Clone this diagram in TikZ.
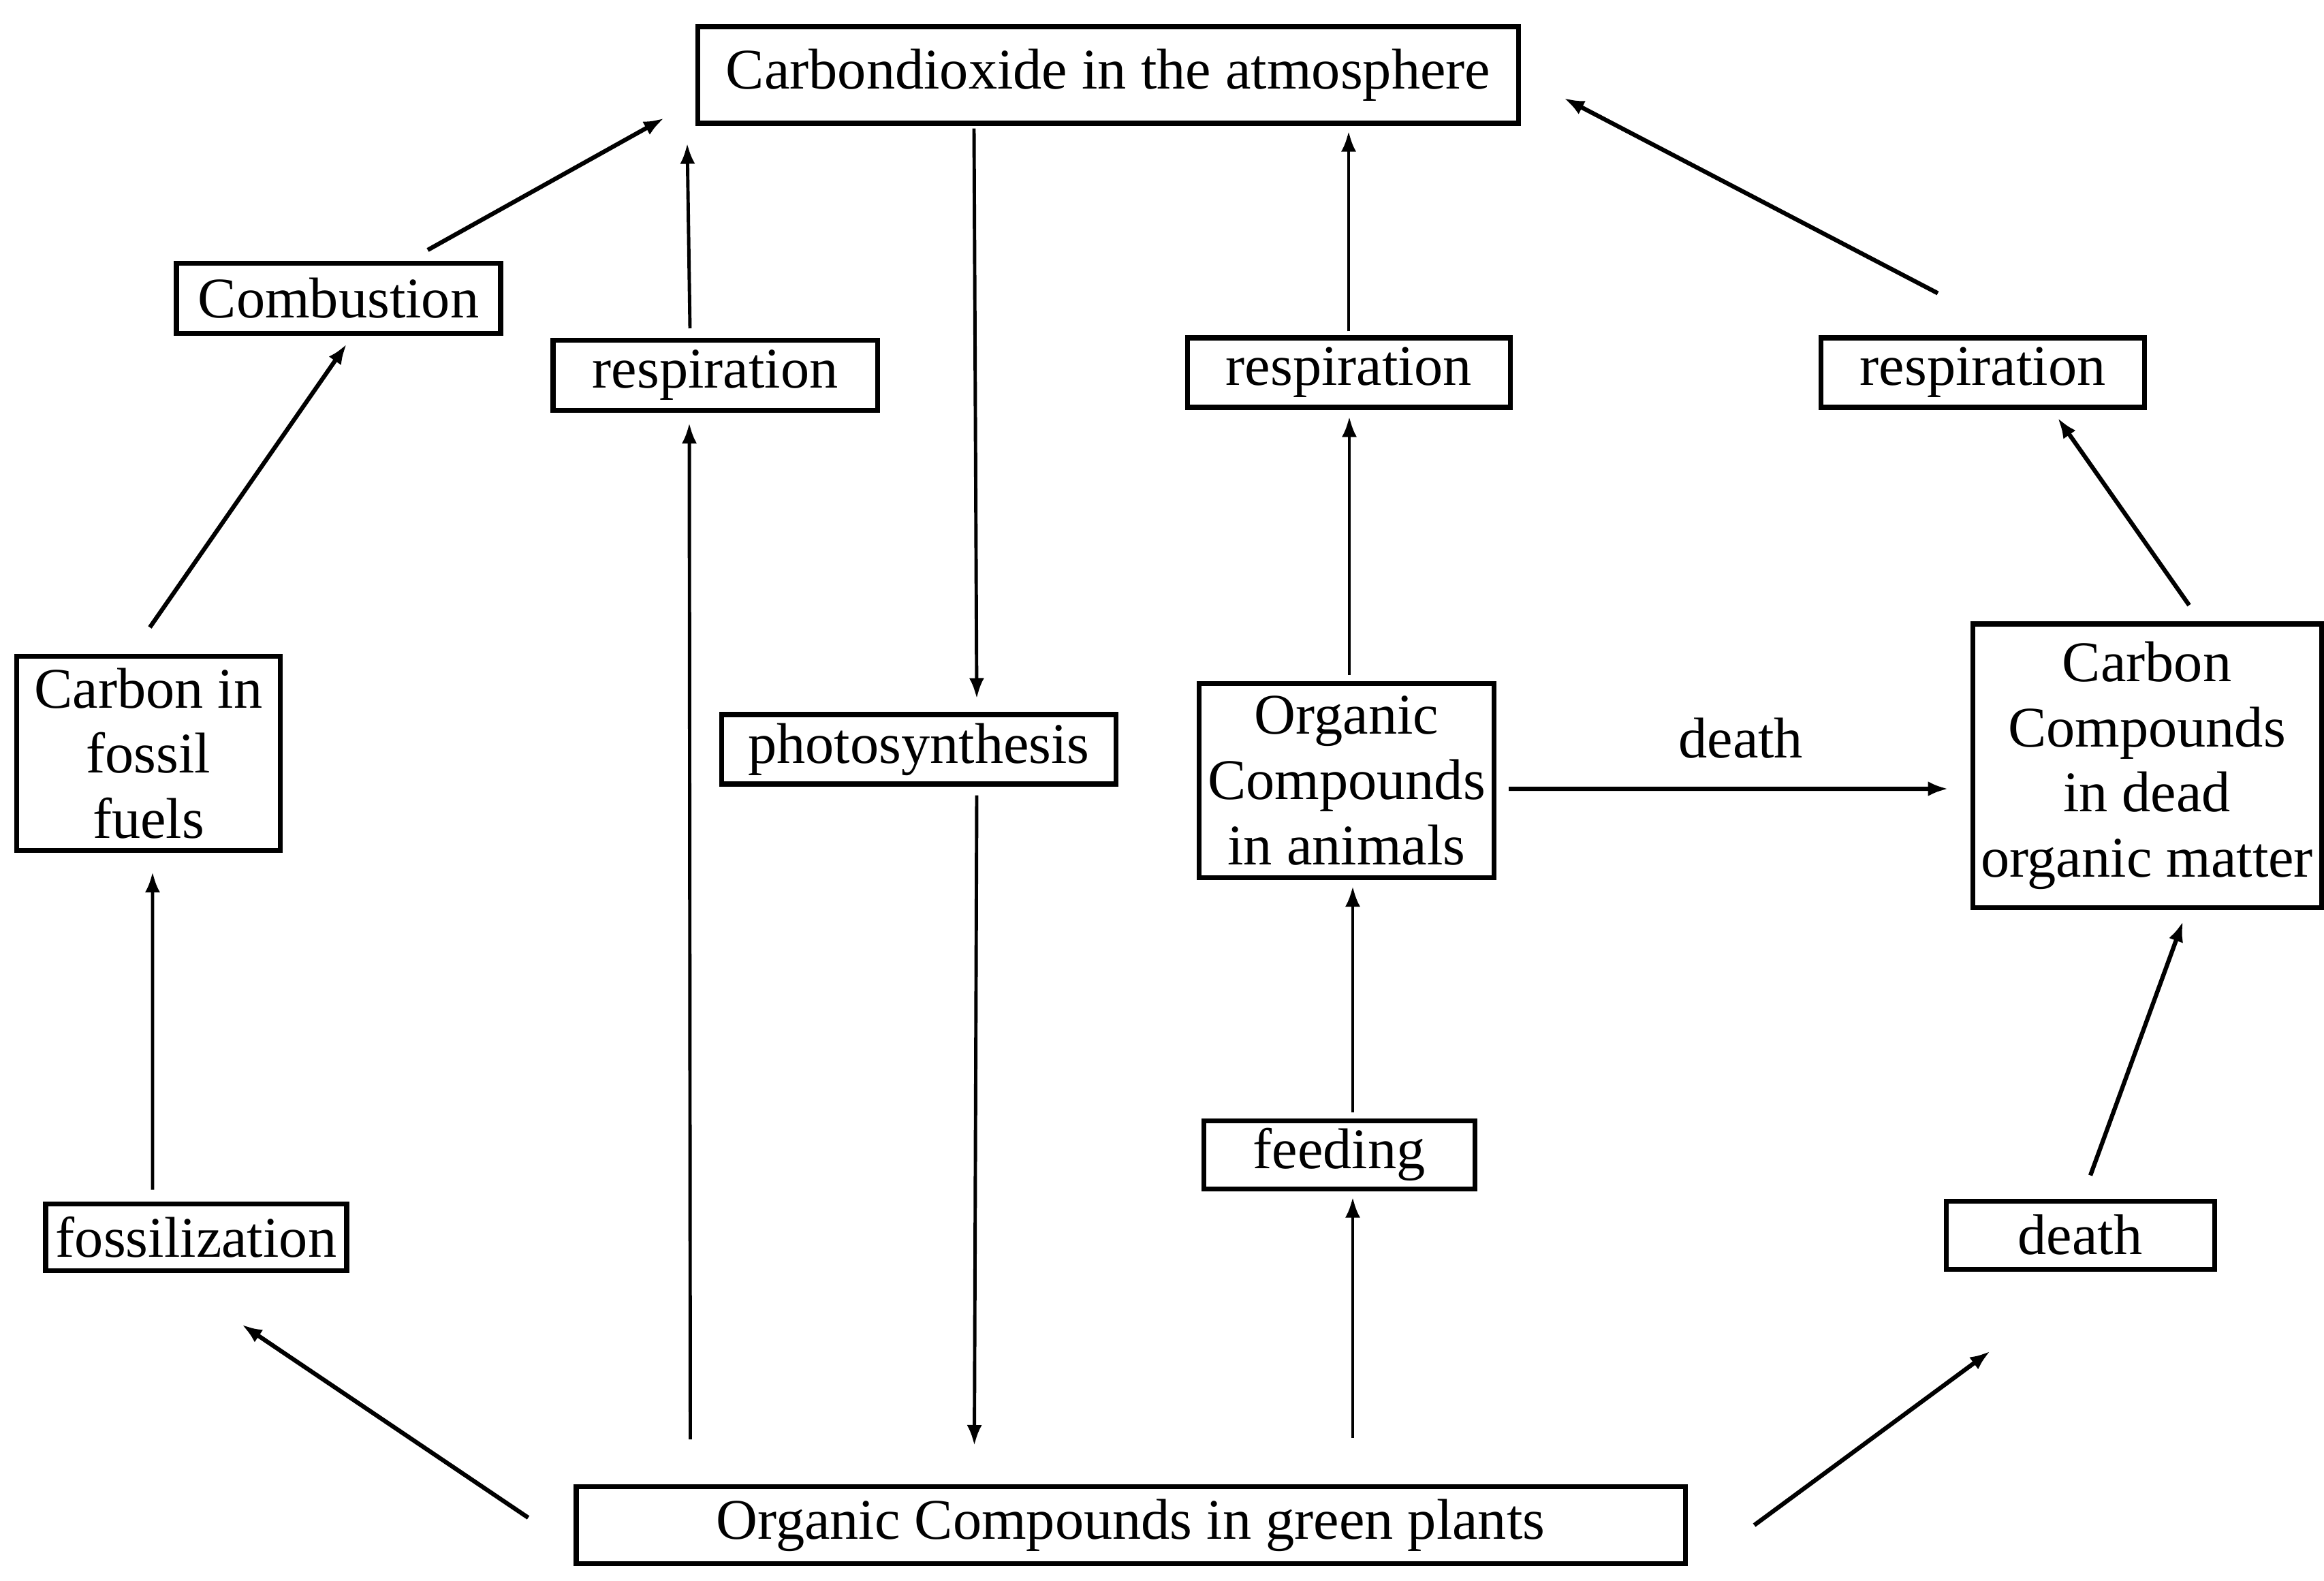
\documentclass[tikz,border=0pt]{standalone}
\usepackage{fontspec}
\setmainfont{Liberation Serif}
\usetikzlibrary{arrows.meta}
\tikzset{
  box/.style={draw, line width=2pt, inner sep=0pt, align=center,
    font=\fontsize{24}{27.2}\selectfont},
  arr/.style={-{Latex[length=3mm,width=2.2mm]}, line width=1.4pt},
  darr/.style={arr, line width=1.8pt},
  lbl/.style={inner sep=0pt, font=\fontsize{24}{27.2}\selectfont},
}
\begin{document}
\begin{tikzpicture}
\useasboundingbox (0,0) rectangle (34.12,-23.21);
% boxes
\node[box, minimum width=12.05cm, minimum height=1.42cm] (co2) at (16.27,-1.10) {Carbondioxide in the atmosphere};
\node[box, minimum width=4.76cm, minimum height=1.03cm] (comb) at (4.97,-4.38) {Combustion};
\node[box, minimum width=4.76cm, minimum height=1.03cm] (resp1) at (10.50,-5.51) {respiration};
\node[box, minimum width=4.74cm, minimum height=1.02cm] (resp2) at (19.80,-5.47) {respiration};
\node[box, minimum width=4.75cm, minimum height=1.02cm] (resp3) at (29.11,-5.47) {respiration};
\node[box, minimum width=3.87cm, minimum height=2.85cm] (fossil) at (2.18,-11.06) {Carbon in\\fossil\\fuels};
\node[box, minimum width=5.79cm, minimum height=1.02cm] (photo) at (13.49,-11.00) {photosynthesis};
\node[box, minimum width=4.33cm, minimum height=2.85cm] (animals) at (19.77,-11.46) {Organic\\Compounds\\in animals};
\node[box, minimum width=5.12cm, minimum height=4.16cm] (dead) at (31.52,-11.24) {Carbon\\Compounds\\in dead\\organic matter};
\node[box, minimum width=3.98cm, minimum height=1.00cm] (feeding) at (19.66,-16.95) {feeding};
\node[box, minimum width=4.42cm, minimum height=0.98cm] (fossiliz) at (2.88,-18.16) {fossilization};
\node[box, minimum width=3.94cm, minimum height=1.00cm] (deathb) at (30.54,-18.13) {death};
\node[box, minimum width=16.28cm, minimum height=1.13cm] (green) at (16.60,-22.39) {Organic Compounds in green plants};
% connectors
\draw[darr] ([shift={(1.31,0.16)}]comb.north) -- ([shift={(-0.46,0.11)}]co2.south west);
\draw[arr] ([shift={(-0.37,0.14)}]resp1.north) -- ([shift={(-0.12,-0.26)}]co2.south west);
\draw[arr] ([shift={(1.71,0.66)}]green.north west) -- ([shift={(-0.38,-0.15)}]resp1.south);
\draw[arr] ([shift={(4.09,-0.04)}]co2.south west) -- ([shift={(0.85,0.20)}]photo.north);
\draw[arr] ([shift={(0.85,-0.13)}]photo.south) -- ([shift={(5.88,0.57)}]green.north west);
\draw[arr] ([shift={(0.04,0.09)}]animals.north) -- ([shift={(0.01,-0.10)}]resp2.south);
\draw[arr] ([shift={(0.00,0.06)}]resp2.north) -- ([shift={(3.53,-0.08)}]co2.south);
\draw[arr] ([shift={(0.20,0.09)}]feeding.north) -- ([shift={(0.09,-0.09)}]animals.south);
\draw[arr] ([shift={(3.26,0.68)}]green.north) -- ([shift={(0.20,-0.09)}]feeding.south);
\draw[darr] ([shift={(0.18,-0.12)}]animals.east) -- node[lbl, above=0.42cm, xshift=0.18cm] (deathlbl) {death} ([shift={(-0.32,-0.34)}]dead.west);
\draw[darr] ([shift={(0.62,0.24)}]dead.north) -- ([shift={(1.10,-0.12)}]resp3.south);
\draw[darr] ([shift={(-0.66,0.62)}]resp3.north) -- ([shift={(0.63,-0.34)}]co2.east);
\draw[darr] ([shift={(0.02,0.39)}]fossil.north) -- ([shift={(0.12,-0.12)}]comb.south);
\draw[arr] ([shift={(-0.64,0.17)}]fossiliz.north) -- ([shift={(0.06,-0.28)}]fossil.south);
\draw[darr] ([shift={(-0.67,0.11)}]green.west) -- ([shift={(0.67,-0.76)}]fossiliz.south);
\draw[darr] ([shift={(0.98,0.00)}]green.east) -- ([shift={(-1.32,-1.17)}]deathb.south);
\draw[darr] ([shift={(0.15,0.34)}]deathb.north) -- ([shift={(0.53,-0.17)}]dead.south);
\end{tikzpicture}
\end{document}
